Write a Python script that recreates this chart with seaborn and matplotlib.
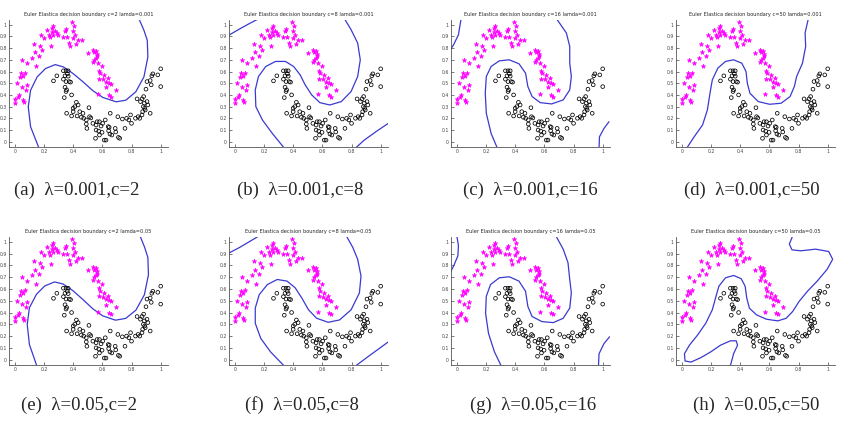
import matplotlib
matplotlib.use("Agg")
import seaborn as sns
from matplotlib import pyplot as plt

# two-moon data (same in every panel)
star_x = [0.000, 0.000, 0.018, 0.029, 0.025, 0.040, 0.036, 0.054, 0.052, 0.052, 0.058, 0.063, 0.070,
          0.074, 0.081, 0.085, 0.119, 0.130, 0.135, 0.144, 0.164, 0.171, 0.180, 0.187, 0.198, 0.220,
          0.231, 0.243, 0.254, 0.254, 0.261, 0.265, 0.276, 0.288, 0.247, 0.299, 0.333, 0.344, 0.355,
          0.348, 0.373, 0.378, 0.389, 0.400, 0.400, 0.411, 0.407, 0.434, 0.422, 0.463, 0.501, 0.537,
          0.546, 0.557, 0.564, 0.553, 0.546, 0.539, 0.566, 0.569, 0.575, 0.584, 0.598, 0.580, 0.602,
          0.613, 0.636, 0.625, 0.647, 0.658, 0.625, 0.569, 0.647, 0.658, 0.694]
star_y = [0.363, 0.329, 0.500, 0.400, 0.380, 0.586, 0.551, 0.563, 0.700, 0.471, 0.357, 0.340, 0.591,
          0.443, 0.486, 0.671, 0.714, 0.837, 0.763, 0.643, 0.729, 0.820, 0.914, 0.786, 0.886, 0.951,
          0.909, 0.891, 0.937, 0.971, 0.991, 0.914, 0.949, 0.926, 0.814, 0.911, 0.894, 0.943, 0.894,
          0.966, 0.846, 0.814, 1.020, 0.943, 0.886, 0.909, 0.986, 0.866, 0.834, 0.866, 0.757, 0.786,
          0.763, 0.777, 0.751, 0.717, 0.700, 0.677, 0.729, 0.671, 0.606, 0.586, 0.643, 0.540, 0.534,
          0.569, 0.543, 0.514, 0.506, 0.494, 0.466, 0.406, 0.400, 0.386, 0.443]

circ_x = [0.265, 0.288, 0.333, 0.351, 0.366, 0.360, 0.344, 0.366, 0.333, 0.351, 0.373, 0.382, 0.344,
          0.355, 0.351, 0.389, 0.339, 0.422, 0.434, 0.411, 0.400, 0.400, 0.355, 0.389, 0.427, 0.445,
          0.467, 0.508, 0.456, 0.472, 0.490, 0.490, 0.494, 0.512, 0.521, 0.535, 0.557, 0.564, 0.580,
          0.557, 0.553, 0.575, 0.580, 0.598, 0.591, 0.602, 0.620, 0.640, 0.643, 0.647, 0.652, 0.665,
          0.613, 0.625, 0.654, 0.688, 0.692, 0.710, 0.719, 0.706, 0.737, 0.755, 0.766, 0.782, 0.793,
          0.800, 0.827, 0.845, 0.856, 0.872, 0.838, 0.861, 0.872, 0.883, 0.888, 0.890, 0.881, 0.894,
          0.876, 0.912, 0.906, 0.899, 0.906, 0.928, 0.935, 0.939, 0.946, 0.928, 0.980, 1.000, 1.000]
circ_y = [0.520, 0.563, 0.606, 0.606, 0.606, 0.580, 0.563, 0.560, 0.534, 0.514, 0.514, 0.509, 0.466,
          0.443, 0.429, 0.400, 0.377, 0.337, 0.314, 0.300, 0.286, 0.257, 0.243, 0.220, 0.220, 0.257,
          0.243, 0.291, 0.209, 0.200, 0.186, 0.151, 0.114, 0.214, 0.203, 0.157, 0.143, 0.171, 0.171,
          0.100, 0.029, 0.091, 0.057, 0.080, 0.134, 0.157, 0.186, 0.129, 0.094, 0.123, 0.066, 0.057,
          0.014, 0.014, 0.243, 0.114, 0.083, 0.037, 0.029, 0.214, 0.194, 0.114, 0.200, 0.186, 0.229,
          0.157, 0.200, 0.214, 0.200, 0.229, 0.366, 0.343, 0.366, 0.386, 0.329, 0.286, 0.300, 0.271,
          0.257, 0.314, 0.343, 0.449, 0.514, 0.523, 0.486, 0.563, 0.580, 0.243, 0.571, 0.623, 0.471]

# decision boundaries, one list of (x, y) segments per panel
bound_a = [([0.164, 0.108, 0.092, 0.108, 0.153, 0.210, 0.277, 0.333, 0.400, 0.468, 0.536, 0.604,
             0.694, 0.761, 0.829, 0.885, 0.912, 0.908, 0.885, 0.851],
            [-0.05, 0.128, 0.298, 0.440, 0.554, 0.625, 0.659, 0.639, 0.582, 0.511, 0.435, 0.378,
             0.341, 0.355, 0.426, 0.554, 0.724, 0.866, 0.952, 1.05])]
bound_b = [([0.336, 0.257, 0.189, 0.144, 0.140, 0.162, 0.212, 0.279, 0.347, 0.403, 0.448, 0.482,
             0.527, 0.583, 0.651, 0.730, 0.797, 0.842, 0.860, 0.842, 0.797, 0.752],
            [-0.05, 0.071, 0.186, 0.300, 0.443, 0.557, 0.643, 0.686, 0.686, 0.643, 0.571, 0.486,
             0.400, 0.334, 0.314, 0.343, 0.429, 0.557, 0.700, 0.843, 0.957, 1.05]),
           ([-0.047, 0.032, 0.099, 0.162], [0.906, 0.963, 1.009, 1.05]),
           ([0.831, 0.887, 0.977, 1.052], [-0.05, 0.014, 0.094, 0.157])]
bound_c = [([0.276, 0.235, 0.202, 0.195, 0.202, 0.235, 0.291, 0.359, 0.426, 0.471, 0.487, 0.516,
             0.572, 0.650, 0.729, 0.774, 0.785, 0.774, 0.774, 0.751, 0.684],
            [-0.05, 0.071, 0.243, 0.414, 0.557, 0.643, 0.691, 0.700, 0.666, 0.586, 0.471, 0.386,
             0.334, 0.323, 0.357, 0.443, 0.557, 0.671, 0.814, 0.929, 1.05]),
           ([-0.052, -0.022, 0.011, 0.029], [0.771, 0.829, 0.914, 1.05]),
           ([0.975, 0.978, 1.009, 1.043], [-0.05, 0.043, 0.114, 0.171])]
bound_d = [([0.036, 0.085, 0.142, 0.175, 0.193, 0.209, 0.247, 0.299, 0.355, 0.411, 0.440, 0.449,
             0.467, 0.524, 0.602, 0.681, 0.742, 0.771, 0.787, 0.827, 0.849, 0.845, 0.867],
            [-0.05, 0.043, 0.143, 0.271, 0.414, 0.529, 0.629, 0.686, 0.700, 0.671, 0.600, 0.500,
             0.414, 0.343, 0.320, 0.329, 0.386, 0.471, 0.557, 0.671, 0.814, 0.929, 1.05])]
bound_e = [([0.150, 0.100, 0.085, 0.100, 0.148, 0.205, 0.272, 0.330, 0.398, 0.466, 0.534, 0.602,
             0.690, 0.760, 0.830, 0.888, 0.916, 0.912, 0.890, 0.858],
            [-0.05, 0.128, 0.298, 0.440, 0.554, 0.625, 0.659, 0.642, 0.585, 0.511, 0.432, 0.372,
             0.335, 0.350, 0.420, 0.550, 0.720, 0.866, 0.952, 1.05])]
bound_f = [([0.336, 0.245, 0.178, 0.140, 0.140, 0.167, 0.223, 0.291, 0.358, 0.414, 0.459, 0.505,
             0.561, 0.640, 0.718, 0.797, 0.854, 0.865, 0.842, 0.809, 0.764],
            [-0.05, 0.066, 0.180, 0.309, 0.437, 0.551, 0.637, 0.680, 0.666, 0.609, 0.523, 0.423,
             0.351, 0.317, 0.337, 0.423, 0.566, 0.709, 0.851, 0.951, 1.05]),
           ([-0.047, 0.032, 0.099, 0.167], [0.900, 0.951, 1.000, 1.05]),
           ([0.831, 0.910, 0.989, 1.052], [-0.05, 0.023, 0.094, 0.151])]
bound_g = [([0.303, 0.258, 0.217, 0.197, 0.202, 0.231, 0.291, 0.359, 0.426, 0.471, 0.487, 0.516,
             0.583, 0.661, 0.729, 0.774, 0.785, 0.774, 0.762, 0.729, 0.679],
            [-0.05, 0.066, 0.223, 0.394, 0.537, 0.637, 0.694, 0.703, 0.666, 0.580, 0.451, 0.366,
             0.323, 0.314, 0.351, 0.437, 0.566, 0.680, 0.823, 0.937, 1.05]),
           ([-0.052, -0.022, 0.007, 0.011, 0.000], [0.723, 0.794, 0.880, 0.966, 1.05]),
           ([0.971, 0.975, 1.009, 1.047], [-0.05, 0.051, 0.137, 0.194])]
bound_h = [([0.333, 0.355, 0.382, 0.373, 0.333, 0.265, 0.198, 0.130, 0.063, 0.022, 0.018, 0.052,
             0.108, 0.164, 0.209, 0.231, 0.254, 0.299, 0.355, 0.407, 0.434, 0.445, 0.463, 0.512,
             0.580, 0.658, 0.715, 0.760, 0.804, 0.861, 0.928, 0.996, 1.034, 1.007, 0.917, 0.816,
             0.755, 0.737, 0.760],
            [-0.05, 0.051, 0.123, 0.160, 0.160, 0.123, 0.066, 0.017, -0.020, -0.011, 0.051, 0.123,
             0.209, 0.309, 0.423, 0.523, 0.623, 0.694, 0.714, 0.686, 0.623, 0.523, 0.437, 0.380,
             0.343, 0.329, 0.351, 0.409, 0.494, 0.580, 0.666, 0.766, 0.851, 0.917, 0.937, 0.923,
             0.931, 0.980, 1.05])]

c_values = [2, 8, 16, 50, 2, 8, 16, 50]
lam_values = ["0.001", "0.001", "0.001", "0.001", "0.05", "0.05", "0.05", "0.05"]
panel_letters = ["a", "b", "c", "d", "e", "f", "g", "h"]
boundaries = [bound_a, bound_b, bound_c, bound_d, bound_e, bound_f, bound_g, bound_h]

sns.set_style("ticks")
plt.rcParams["font.family"] = ["DejaVu Sans"]

fig = plt.figure(figsize=(8.42, 4.26), dpi=100)
W, H = 842, 426
lefts = [9, 229, 451, 676]
row_top = [20, 237]
row_bot = [147, 365]
cap_x = [77, 300, 530, 752, 79, 302, 533, 756]
cap_y = [190, 405]

for i in range(8):
    r, col = divmod(i, 4)
    ax = fig.add_axes([lefts[col] / W, 1 - row_bot[r] / H, 159 / W, (row_bot[r] - row_top[r]) / H])
    sns.scatterplot(x=star_x, y=star_y, ax=ax, marker="*", s=11, color="#ff00ff",
                    edgecolor="#ff00ff", linewidth=0.4, zorder=3)
    sns.scatterplot(x=circ_x, y=circ_y, ax=ax, marker="o", s=7, facecolor="none",
                    edgecolor="black", linewidth=0.55, zorder=3)
    for xs, ys in boundaries[i]:
        sns.lineplot(x=xs, y=ys, ax=ax, sort=False, estimator=None, color="#3a3ad0", lw=0.9)
    ax.set_xlim(-0.04, 1.05)
    ax.set_ylim(-0.045, 1.04)
    ax.set_xticks([0, 0.2, 0.4, 0.6, 0.8, 1])
    ax.set_xticklabels(["0", "0.2", "0.4", "0.6", "0.8", "1"])
    ax.set_yticks([0, 0.1, 0.2, 0.3, 0.4, 0.5, 0.6, 0.7, 0.8, 0.9, 1])
    ax.set_yticklabels(["0", "0.1", "0.2", "0.3", "0.4", "0.5", "0.6", "0.7", "0.8", "0.9", "1"])
    ax.tick_params(direction="in", length=2, width=0.5, labelsize=3.3, pad=1.5, colors="#444444")
    for side in ["top", "right"]:
        ax.spines[side].set_visible(False)
    for side in ["left", "bottom"]:
        ax.spines[side].set_linewidth(0.6)
        ax.spines[side].set_color("#555555")
    ax.set_title(f"Euler Elastica decision boundary c={c_values[i]} lamda={lam_values[i]}",
                 fontsize=3.6, pad=3)
    fig.text(cap_x[i] / W, 1 - cap_y[r] / H,
             f"({panel_letters[i]})  λ={lam_values[i]},c={c_values[i]}",
             ha="center", va="center", fontsize=13.5,
             family=["Liberation Serif", "DejaVu Serif"])

fig.savefig("out.png", dpi=100)
